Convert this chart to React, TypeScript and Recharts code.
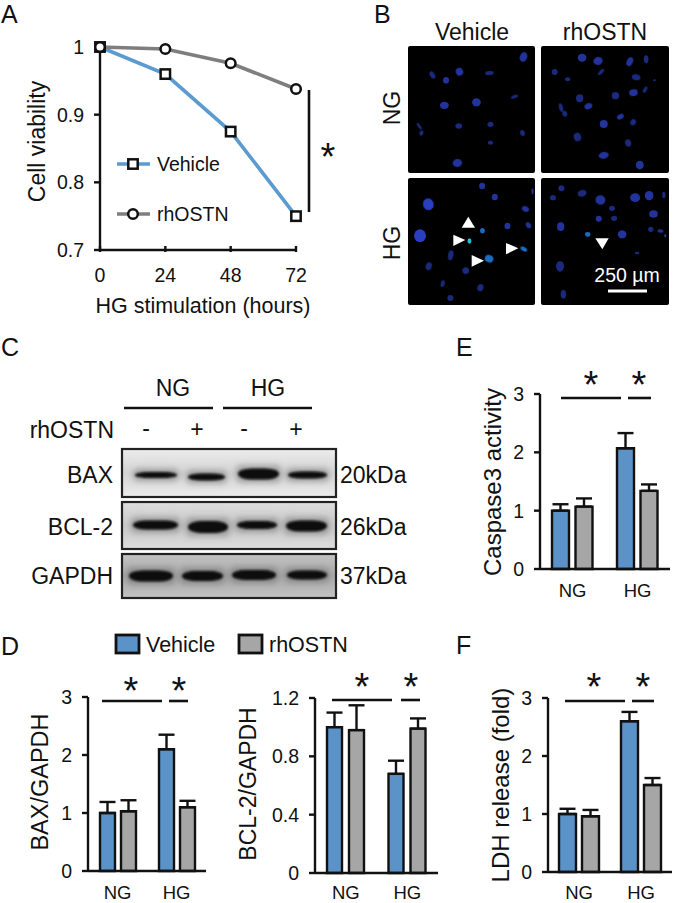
import React from "react";
import {
  LineChart, Line, BarChart, Bar, ErrorBar, ScatterChart, Scatter, XAxis, YAxis, Legend,
} from "recharts";

const FONT = "'Liberation Sans', Arial, sans-serif";
const INK = "#111";
const BLUE = "#5b93c9";
const GREY = "#a6a6a6";
const LINE_BLUE = "#5b9bd0";
const LINE_GREY = "#7e7e7e";

// Panel A
const hours = [0, 24, 48, 72];
const viabilityVehicle = [1, 0.96, 0.875, 0.75];
const viabilityRhOSTN = [1, 0.997, 0.976, 0.938];
const viabilityTicks = [0.7, 0.8, 0.9, 1];

// Bar panels
const groups = ["NG", "HG"];
const baxVehicle = [1.0, 2.1];
const baxVehicleErr = [0.19, 0.25];
const baxRhOSTN = [1.03, 1.1];
const baxRhOSTNErr = [0.19, 0.11];
const bclVehicle = [1.0, 0.68];
const bclVehicleErr = [0.1, 0.09];
const bclRhOSTN = [0.98, 0.99];
const bclRhOSTNErr = [0.17, 0.07];
const caspVehicle = [1.0, 2.07];
const caspVehicleErr = [0.11, 0.26];
const caspRhOSTN = [1.07, 1.34];
const caspRhOSTNErr = [0.14, 0.11];
const ldhVehicle = [1.0, 2.6];
const ldhVehicleErr = [0.09, 0.16];
const ldhRhOSTN = [0.96, 1.5];
const ldhRhOSTNErr = [0.11, 0.12];

// Micrograph nuclei: x, y, rx, ry, angle, tone
type N = number[];
const nucleiNGVehicle: N[] = [
  [459,170,11,15,20,0],[186,224,7,12,-30,1],[267,214,11,12,-20,0],[227,240,9,10,0,0],[357,218,13,6,-5,1],
  [222,315,13,11,0,0],[318,306,13,12,0,0],[432,289,11,5,-20,1],[265,377,10,8,0,1],[360,372,9,8,0,1],
  [147,378,4,12,-35,1],[153,398,6,8,20,1],[456,398,7,9,-20,1],[360,427,8,6,0,1],[261,488,14,12,-10,0],
];
const nucleiNGRhOSTN: N[] = [
  [637,172,13,12,0,0],[685,182,14,12,-15,0],[780,184,9,14,25,0],[829,177,7,12,0,1],[555,215,9,9,0,1],
  [694,215,5,12,45,1],[594,237,8,6,0,1],[799,231,13,9,10,1],[854,240,4,3,0,1],[630,294,11,12,0,1],
  [737,286,11,11,0,1],[791,277,13,10,-10,0],[826,268,5,10,30,1],[656,318,12,9,-20,0],[574,322,6,13,-15,1],
  [585,340,7,9,-20,1],[752,349,11,7,-30,0],[702,371,12,12,0,0],[790,366,8,10,30,1],[623,410,11,13,-15,1],
  [775,428,9,11,-20,1],[702,465,15,10,-10,0],[810,494,12,13,0,0],
];
const nucleiHGVehicle: N[] = [
  [335,559,9,10,0,0],[373,592,9,10,0,0],[486,575,3,9,0,0],[174,614,16,18,-15,2],[465,628,11,8,25,0],
  [149,708,18,19,0,2],[411,679,9,10,0,0],[474,677,7,10,-35,0],[336,693,7,8,0,3],[297,724,6,8,0,4],
  [460,748,11,6,30,3],[241,767,8,15,10,1],[356,777,13,11,20,3],[175,800,9,12,20,1],[286,813,10,10,-20,1],
  [217,852,6,10,15,1],[330,864,9,11,20,1],[240,895,9,9,0,1],
];
const nucleiHGRhOSTN: N[] = [
  [575,566,9,9,0,1],[550,594,9,8,0,1],[637,581,13,10,-15,1],[692,601,15,14,20,0],[796,594,15,13,0,0],
  [838,588,13,14,0,0],[882,586,5,10,0,1],[727,626,9,8,0,1],[851,643,13,11,0,0],[687,657,9,9,0,0],
  [733,656,9,8,0,1],[573,681,11,13,0,0],[843,689,8,8,0,1],[872,694,9,5,10,0],[654,704,8,7,0,3],
  [757,704,13,12,0,0],[886,708,2,5,0,3],[802,760,7,4,0,1],[571,800,12,16,0,1],[581,884,8,13,0,1],
];
const NUCLEUS_TONES = ["#23339c", "#1b2a7c", "#2a3fc0", "#1a6cc0", "#18c0d8"];

// Western blot bands: x0, x1, yCentre, height
const blotBAX = [[135,177,475,6],[188,225,477,7],[238,279,474,11],[288,327,475,7]];
const blotBCL = [[133,178,525,9],[188,228,527,12],[237,277,525,8],[286,327,526,11]];
const blotGAPDH = [[129,173,576,11],[182,223,576,10],[232,276,575,10],[287,327,575,9]];

const T = ({ x, y, s = 19, a = "start", fill = INK, rot = 0, children }: any) => (
  <text x={x} y={y} fontSize={s} textAnchor={a} fill={fill} dominantBaseline="central"
    transform={rot ? `rotate(${rot} ${x} ${y})` : undefined} style={{ fontFamily: FONT }}>
    {children}
  </text>
);
const Star = ({ x, y }: any) => (
  <text x={x} y={y + 3.5} fontSize={38} textAnchor="middle" fill={INK} dominantBaseline="central" style={{ fontFamily: FONT }}>*</text>
);
const Seg = ({ x1, x2, y, w = 2.6, c = INK }: any) => <line x1={x1} x2={x2} y1={y} y2={y} stroke={c} strokeWidth={w} />;

const Square = ({ cx, cy }: any) => <rect x={cx - 4.7} y={cy - 4.7} width={9.4} height={9.4} fill="#fff" stroke={INK} strokeWidth={2.5} />;
const Round = ({ cx, cy }: any) => <circle cx={cx} cy={cy} r={4.8} fill="#fff" stroke={INK} strokeWidth={2.5} />;

const viabilityRows = hours.map((h, i) => ({ h, vehicle: viabilityVehicle[i], rhOSTN: viabilityRhOSTN[i] }));

const LineLegend = () => (
  <svg width={140} height={80} style={{ display: "block", overflow: "visible" }}>
    <line x1={0} x2={33} y1={10} y2={10} stroke={LINE_BLUE} strokeWidth={3.6} />
    <Square cx={16} cy={10} />
    <T x={40} y={10} s={19.5}>Vehicle</T>
    <line x1={0} x2={33} y1={60} y2={60} stroke={LINE_GREY} strokeWidth={3.6} />
    <Round cx={16} cy={60} />
    <T x={40} y={60} s={19.5}>rhOSTN</T>
  </svg>
);

const HourTick = ({ x, y, payload }: any) => (
  <g>
    <line x1={x} x2={x} y1={y} y2={y - 6} stroke={INK} strokeWidth={2.4} />
    <T x={x} y={y + 23} s={19.5} a="middle">{payload.value}</T>
  </g>
);

const ViabilityChart = () => (
  <div style={{ position: "absolute", left: 0, top: 0 }}>
    <LineChart width={340} height={320} data={viabilityRows} margin={{ top: 47, right: 44, bottom: 0, left: 0 }}>
      <XAxis dataKey="h" type="number" domain={[0, 72]} ticks={hours} height={70} tickSize={0} tickLine={false}
        tick={<HourTick />} axisLine={{ stroke: INK, strokeWidth: 2.4 }} interval={0}
        label={{ value: "HG stimulation (hours)", position: "insideBottom", offset: 7, dx: 5, fontSize: 21.5, fill: INK }} />
      <YAxis type="number" domain={[0.7, 1]} ticks={viabilityTicks} width={100} interval={0} tickSize={6} tickMargin={10}
        tick={{ fontSize: 19.5, fill: INK }} tickLine={{ stroke: INK, strokeWidth: 2.4 }} axisLine={{ stroke: INK, strokeWidth: 2.4 }}
        label={{ value: "Cell viability", angle: -90, position: "insideLeft", offset: 37, dy: -7, fontSize: 23, fill: INK, style: { textAnchor: "middle" } }} />
      <Legend layout="horizontal" verticalAlign="middle" align="center" content={<LineLegend />}
        wrapperStyle={{ position: "absolute", left: 117, top: 154, width: 140, height: 80 }} />
      <Line dataKey="vehicle" stroke={LINE_BLUE} strokeWidth={3.6} isAnimationActive={false} dot={<Square />} activeDot={false} />
      <Line dataKey="rhOSTN" stroke={LINE_GREY} strokeWidth={3.6} isAnimationActive={false} dot={<Round />} activeDot={false} />
    </LineChart>
  </div>
);

type BarPanelProps = {
  left: number; axisX: number; right: number; plotTop: number; plotBottom: number;
  max: number; ticks: number[]; title: string; titleX: number; titleY: number; titleSize: number;
  vehicle: number[]; vehicleErr: number[]; rhOSTN: number[]; rhOSTNErr: number[];
  barSize: number; barGap: number; labelGap: number;
};

const BarPanel = (p: BarPanelProps) => {
  const top = p.plotTop - 12;
  const height = 903 - top;
  const rows = groups.map((g, i) => ({
    g, vehicle: p.vehicle[i], rhOSTN: p.rhOSTN[i],
    vehicleErr: [0, p.vehicleErr[i]], rhOSTNErr: [0, p.rhOSTNErr[i]],
  }));
  return (
    <div style={{ position: "absolute", left: p.left, top }}>
      <BarChart width={p.right - p.left} height={height} data={rows} barSize={p.barSize} barGap={p.barGap}
        margin={{ top: 12, right: 0, bottom: 0, left: 0 }}>
        <XAxis dataKey="g" height={903 - p.plotBottom} tickSize={0} tickMargin={p.labelGap} tickLine={false} interval={0}
          tick={{ fontSize: 18.5, fill: INK }} axisLine={{ stroke: INK, strokeWidth: 2.4 }} />
        <YAxis type="number" domain={[0, p.max]} ticks={p.ticks} width={p.axisX - p.left} interval={0} tickSize={6} tickMargin={10}
          tick={{ fontSize: 19.5, fill: INK }} tickLine={{ stroke: INK, strokeWidth: 2.4 }} axisLine={{ stroke: INK, strokeWidth: 2.4 }}
          label={{
            value: p.title, angle: -90, position: "insideLeft", offset: p.titleX - p.left,
            dy: p.titleY - (p.plotTop + p.plotBottom) / 2, fontSize: p.titleSize, fill: INK, style: { textAnchor: "middle" },
          }} />
        <Bar dataKey="vehicle" fill={BLUE} stroke={INK} strokeWidth={2.4} isAnimationActive={false}>
          <ErrorBar dataKey="vehicleErr" direction="y" stroke={INK} strokeWidth={2.4} width={8} isAnimationActive={false} />
        </Bar>
        <Bar dataKey="rhOSTN" fill={GREY} stroke={INK} strokeWidth={2.4} isAnimationActive={false}>
          <ErrorBar dataKey="rhOSTNErr" direction="y" stroke={INK} strokeWidth={2.4} width={8} isAnimationActive={false} />
        </Bar>
      </BarChart>
    </div>
  );
};

const Nucleus = ({ cx, cy, payload }: any) => (
  <ellipse cx={cx} cy={cy} rx={payload.rx / 3} ry={payload.ry / 3} fill={NUCLEUS_TONES[payload.tone]}
    transform={`rotate(${payload.angle} ${cx} ${cy})`} style={{ filter: "blur(0.6px)" }} />
);

const Micrograph = ({ nuclei, zx, zy }: { nuclei: N[]; zx: number; zy: number }) => {
  const rows = nuclei.map(([x, y, rx, ry, angle, tone]) => ({ x, y, rx, ry, angle, tone }));
  return (
    <div style={{ position: "absolute", left: 370 + zx / 3, top: zy / 3, width: 127.5, height: 127, background: "#000", borderRadius: 2 }}>
      <ScatterChart width={127.5} height={127} data={rows} margin={{ top: 0, right: 0, bottom: 0, left: 0 }}>
        <XAxis dataKey="x" type="number" domain={[zx, zx + 382]} hide />
        <YAxis dataKey="y" type="number" domain={[zy, zy + 381]} hide reversed />
        <Scatter data={rows} shape={<Nucleus />} isAnimationActive={false} />
      </ScatterChart>
    </div>
  );
};

const Arrow = ({ pts }: { pts: number[][] }) => (
  <polygon points={pts.map(([x, y]) => `${370 + x / 3},${y / 3}`).join(" ")} fill="#fff" />
);

const BlotPanel = ({ y, h, bg, edge, bands, id }: any) => (
  <g>
    <defs>
      <linearGradient id={id} x1="0" x2="0" y1="0" y2="1">
        <stop offset="0" stopColor={bg} />
        <stop offset="0.5" stopColor={edge} />
        <stop offset="1" stopColor={bg} />
      </linearGradient>
    </defs>
    <rect x={122} y={y} width={214} height={h} fill={`url(#${id})`} />
    <g filter="url(#halo)">
      {bands.map((b: number[], i: number) => (
        <rect key={i} x={b[0] - 2} y={b[2] - b[3] / 2 - 3} width={b[1] - b[0] + 4} height={b[3] + 6} rx={5} fill="#6a6a6a" opacity={0.55} />
      ))}
    </g>
    <g filter="url(#band)">
      {bands.map((b: number[], i: number) => (
        <rect key={i} x={b[0]} y={b[2] - b[3] / 2} width={b[1] - b[0]} height={b[3]} rx={14} ry={b[3] / 2} fill="#080808" />
      ))}
    </g>
    <rect x={122} y={y} width={214} height={h} fill="none" stroke="#222" strokeWidth={2.2} />
  </g>
);

const Overlay = () => (
  <svg width={673} height={903} style={{ position: "absolute", left: 0, top: 0, pointerEvents: "none" }}>
    <defs>
      <filter id="band" x="-10%" y="-60%" width="120%" height="220%"><feGaussianBlur stdDeviation="1.1" /></filter>
      <filter id="halo" x="-10%" y="-80%" width="120%" height="260%"><feGaussianBlur stdDeviation="3" /></filter>
    </defs>

    <T x={1} y={14} s={25}>A</T>
    <T x={374} y={14} s={25}>B</T>
    <T x={1} y={347} s={25}>C</T>
    <T x={1} y={646} s={25}>D</T>
    <T x={456} y={347} s={25}>E</T>
    <T x={456} y={645} s={25}>F</T>

    <line x1={309} x2={309} y1={90} y2={212} stroke={INK} strokeWidth={2.6} />
    <Star x={328} y={153} />

    <T x={472} y={32} s={23} a="middle">Vehicle</T>
    <T x={605} y={32} s={23} a="middle">rhOSTN</T>
    <T x={392} y={108} s={23} a="middle" rot={-90}>NG</T>
    <T x={392} y={243} s={23} a="middle" rot={-90}>HG</T>
    <Arrow pts={[[295, 650], [275, 683], [315, 683]]} />
    <Arrow pts={[[250, 704], [250, 738], [286, 720]]} />
    <Arrow pts={[[305, 765], [305, 800], [342, 782]]} />
    <Arrow pts={[[408, 729], [408, 763], [445, 745]]} />
    <Arrow pts={[[676, 715], [716, 715], [697, 748]]} />
    <T x={627} y={275} s={19.5} a="middle" fill="#fff">250 µm</T>
    <rect x={608} y={289.5} width={39} height={3} fill="#fff" />

    <T x={173} y={388} s={23} a="middle">NG</T>
    <T x={268} y={388} s={23} a="middle">HG</T>
    <Seg x1={124} x2={213} y={408} w={2.6} />
    <Seg x1={223} x2={312} y={408} w={2.6} />
    <T x={114} y={430} s={23} a="end">rhOSTN</T>
    <T x={146} y={428} s={23} a="middle">-</T>
    <T x={197} y={429} s={23} a="middle">+</T>
    <T x={244} y={428} s={23} a="middle">-</T>
    <T x={296} y={429} s={23} a="middle">+</T>
    <BlotPanel id="gBAX" y={449} h={48} bg="#ececec" edge="#d4d4d4" bands={blotBAX} />
    <BlotPanel id="gBCL" y={502} h={47} bg="#dedede" edge="#c8c8c8" bands={blotBCL} />
    <BlotPanel id="gGAPDH" y={554} h={44} bg="#c4c4c4" edge="#a8a8a8" bands={blotGAPDH} />
    <T x={113} y={475} s={23} a="end">BAX</T>
    <T x={113} y={527} s={23} a="end">BCL-2</T>
    <T x={113} y={576} s={23} a="end">GAPDH</T>
    <T x={340} y={475} s={23}>20kDa</T>
    <T x={340} y={527} s={23}>26kDa</T>
    <T x={340} y={576} s={23}>37kDa</T>

    <rect x={116} y={635} width={23} height={18} fill={BLUE} stroke={INK} strokeWidth={2.8} />
    <T x={146} y={645} s={21.5}>Vehicle</T>
    <rect x={239} y={635} width={23} height={18} fill={GREY} stroke={INK} strokeWidth={2.8} />
    <T x={269} y={645} s={21.5}>rhOSTN</T>

    <Seg x1={102} x2={162} y={701} /><Seg x1={169} x2={188} y={701} />
    <Star x={131} y={687} /><Star x={179} y={687} />
    <Seg x1={332} x2={392} y={700} /><Seg x1={401} x2={420} y={700} />
    <Star x={362} y={683} /><Star x={411} y={683} />
    <Seg x1={561} x2={621} y={398} /><Seg x1={628} x2={651} y={398} />
    <Star x={591} y={381} /><Star x={639} y={381} />
    <Seg x1={565} x2={625} y={701} /><Seg x1={632} x2={654} y={701} />
    <Star x={594} y={683} /><Star x={643} y={683} />
  </svg>
);

export default function App() {
  return (
    <div style={{ position: "absolute", left: 0, top: 0, width: 673, height: 903, background: "#fff", fontFamily: FONT, overflow: "hidden" }}>
      <ViabilityChart />
      <Micrograph nuclei={nucleiNGVehicle} zx={113} zy={137} />
      <Micrograph nuclei={nucleiNGRhOSTN} zx={514} zy={137} />
      <Micrograph nuclei={nucleiHGVehicle} zx={113} zy={535} />
      <Micrograph nuclei={nucleiHGRhOSTN} zx={514} zy={535} />
      <BarPanel left={0} axisX={88} right={206} plotTop={697} plotBottom={871} max={3} ticks={[0, 1, 2, 3]}
        title="BAX/GAPDH" titleX={40} titleY={782} titleSize={23.5} labelGap={15}
        vehicle={baxVehicle} vehicleErr={baxVehicleErr} rhOSTN={baxRhOSTN} rhOSTNErr={baxRhOSTNErr} barSize={15} barGap={6} />
      <BarPanel left={225} axisX={315} right={438} plotTop={698} plotBottom={873} max={1.2} ticks={[0, 0.4, 0.8, 1.2]}
        title="BCL-2/GAPDH" titleX={248} titleY={784} titleSize={23} labelGap={13}
        vehicle={bclVehicle} vehicleErr={bclVehicleErr} rhOSTN={bclRhOSTN} rhOSTNErr={bclRhOSTNErr} barSize={15} barGap={7} />
      <BarPanel left={470} axisX={540} right={670} plotTop={394} plotBottom={569} max={3} ticks={[0, 1, 2, 3]}
        title="Caspase3 activity" titleX={492} titleY={482} titleSize={24} labelGap={15}
        vehicle={caspVehicle} vehicleErr={caspVehicleErr} rhOSTN={caspRhOSTN} rhOSTNErr={caspRhOSTNErr} barSize={17} barGap={6.5} />
      <BarPanel left={475} axisX={548} right={672} plotTop={698} plotBottom={872} max={3} ticks={[0, 1, 2, 3]}
        title="LDH release (fold)" titleX={500} titleY={785} titleSize={24} labelGap={14}
        vehicle={ldhVehicle} vehicleErr={ldhVehicleErr} rhOSTN={ldhRhOSTN} rhOSTNErr={ldhRhOSTNErr} barSize={17} barGap={6} />
      <Overlay />
    </div>
  );
}
